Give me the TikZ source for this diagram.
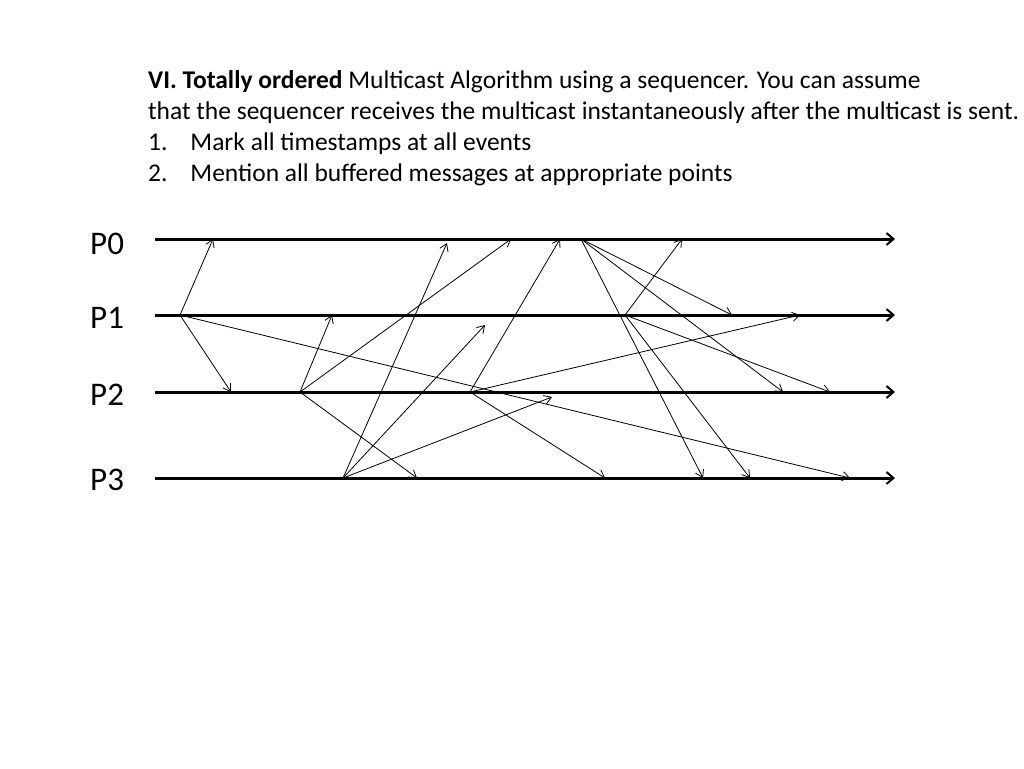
\documentclass[tikz,border=0pt]{standalone}
\usepackage{fontspec}
\setmainfont{Carlito}
\usetikzlibrary{arrows.meta}
\begin{document}
\begin{tikzpicture}[x=1pt,y=-1pt,
  tl/.style={line width=3pt,-{Straight Barb[length=7pt,width=12pt,line width=2pt]}},
  msg/.style={line width=0.8pt,-{Straight Barb[length=7pt,width=9pt]}},
  lab/.style={font=\fontsize{33}{36}\selectfont,anchor=base west,inner sep=0}]
\useasboundingbox (0,0) rectangle (1024,768);
\node[anchor=base west,align=left,font=\fontsize{25.5}{31}\selectfont,inner sep=0] (title) at (148,181)
{\textbf{VI. Totally ordered} Multicast Algorithm using a sequencer. You can assume\\
that the sequencer receives the multicast instantaneously after the multicast is sent.\\
1.\hspace{0.9em}Mark all timestamps at all events\\
2.\hspace{0.9em}Mention all buffered messages at appropriate points};
\node[lab] (l0) at (90,254) {P0};
\node[lab] (l1) at (90,328) {P1};
\node[lab] (l2) at (90,405) {P2};
\node[lab] (l3) at (90,490) {P3};
\coordinate (s0) at (155,239); \coordinate (e0) at (895,239);
\coordinate (s1) at (155,315); \coordinate (e1) at (895,315);
\coordinate (s2) at (155,392); \coordinate (e2) at (895,392);
\coordinate (s3) at (155,478); \coordinate (e3) at (895,478);
\draw[tl] (s0) -- (e0);
\draw[tl] (s1) -- (e1);
\draw[tl] (s2) -- (e2);
\draw[tl] (s3) -- (e3);
% events
\coordinate (a) at (180,315);
\coordinate (b) at (300,392);
\coordinate (c) at (343,478);
\coordinate (d) at (470,392);
\coordinate (f) at (581,239);
\coordinate (g) at (625,315);
% receive points
\coordinate (a0) at (213,239); \coordinate (a2) at (231,392); \coordinate (a3) at (850,478);
\coordinate (b1) at (332,315); \coordinate (b0) at (511,239); \coordinate (b3) at (417,478);
\coordinate (c0) at (447,243); \coordinate (c1) at (485,325); \coordinate (c2) at (552,397);
\coordinate (d0) at (560,239); \coordinate (d1) at (800,315); \coordinate (d3) at (605,478);
\coordinate (f1) at (732,315); \coordinate (f2) at (783,392); \coordinate (f3) at (703,478);
\coordinate (g0) at (682,239); \coordinate (g2) at (830,392); \coordinate (g3) at (750,478);
\foreach \s/\t in {a/a0,a/a2,a/a3,b/b1,b/b0,b/b3,c/c0,c/c1,c/c2,d/d0,d/d1,d/d3,f/f1,f/f2,f/f3,g/g0,g/g2,g/g3}
  \draw[msg] (\s) -- (\t);
\end{tikzpicture}
\end{document}
